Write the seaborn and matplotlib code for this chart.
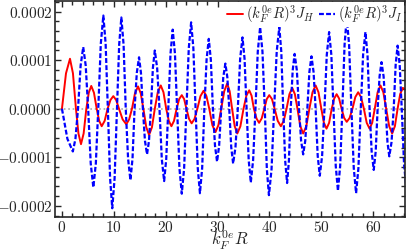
import numpy as np
import pandas as pd
import matplotlib
matplotlib.use("Agg")
import matplotlib.pyplot as plt
from matplotlib.ticker import MultipleLocator, FuncFormatter
import seaborn as sns

# points (extrema, shoulders, zero crossings), y in units of 1e-4
jh_x = [0, 0.78, 1.55, 2.12, 2.7, 3.18, 3.67, 4.18, 4.7, 5.17, 5.65, 6.17, 6.7, 7.18, 7.66,
        8.23, 8.8, 9.35, 9.9, 10.45, 11.0, 11.7, 12.4, 12.95, 13.5, 14.08, 14.67, 15.18, 15.7,
        16.25, 16.8, 17.35, 17.9, 18.47, 19.05, 19.57, 20.1, 20.6, 21.1, 21.6, 22.1, 22.6, 23.1,
        23.55, 24.0, 24.5, 25.0, 25.55, 26.1, 26.7, 27.3, 27.85, 28.4, 29.0, 29.6, 30.15, 30.7,
        31.28, 31.85, 32.33, 32.8, 33.3, 33.8, 34.4, 35.0, 35.55, 36.1, 36.55, 37.0, 37.5, 38.0,
        38.5, 39.0, 39.48, 39.96, 40.48, 41.0, 41.6, 42.2, 42.75, 43.3, 43.85, 44.4, 44.9, 45.4,
        45.95, 46.5, 47.1, 47.7, 48.3, 48.9, 49.45, 50.0, 50.5, 51.0, 51.5, 52.0, 52.48, 52.95,
        53.43, 53.9, 54.4, 54.9, 55.45, 56.0, 56.55, 57.1, 57.65, 58.2, 58.75, 59.3, 59.8, 60.3,
        60.85, 61.4, 61.95, 62.5, 63.08, 63.65, 64.18, 64.7, 65.2, 65.7, 66.5]
jh_y = [0, 0.73, 1.03, 0.73, 0, -0.51, -0.73, -0.51, 0, 0.33, 0.47, 0.33, 0, -0.25, -0.36,
        -0.25, 0, 0.18, 0.26, 0.18, 0, -0.22, -0.32, -0.22, 0, 0.32, 0.46, 0.32, 0,
        -0.38, -0.54, -0.38, 0, 0.34, 0.48, 0.34, 0, -0.25, -0.36, -0.25, 0, 0.20, 0.28,
        0.20, 0, -0.21, -0.30, -0.21, 0, 0.26, 0.37, 0.26, 0, -0.34, -0.48, -0.34, 0,
        0.36, 0.52, 0.36, 0, -0.36, -0.51, -0.36, 0, 0.27, 0.38, 0.27, 0, -0.20, -0.29,
        -0.20, 0, 0.20, 0.28, 0.20, 0, -0.25, -0.36, -0.25, 0, 0.30, 0.43, 0.30, 0,
        -0.36, -0.51, -0.36, 0, 0.34, 0.48, 0.34, 0, -0.29, -0.41, -0.29, 0, 0.21, 0.30,
        0.21, 0, -0.19, -0.27, -0.19, 0, 0.24, 0.34, 0.24, 0, -0.29, -0.41, -0.29, 0,
        0.34, 0.48, 0.34, 0, -0.36, -0.51, -0.36, 0, 0.30, 0.43, 0.38]

ji_x = [0, 1.05, 2.1, 2.6, 3.1, 3.6, 4.1, 4.58, 5.05, 5.55, 6.05, 6.53, 7.0, 7.49, 7.98,
        8.42, 8.85, 9.28, 9.7, 10.15, 10.6, 11.03, 11.45, 11.88, 12.3, 12.75, 13.2, 13.6, 14.0,
        14.43, 14.86, 15.23, 15.6, 16.0, 16.4, 16.78, 17.15, 17.53, 17.9, 18.35, 18.8, 19.25, 19.7,
        20.1, 20.5, 20.93, 21.35, 21.78, 22.2, 22.65, 23.1, 23.55, 24.0, 24.45, 24.9, 25.33, 25.75,
        26.18, 26.6, 27.03, 27.45, 27.88, 28.3, 28.7, 29.1, 29.5, 29.9, 30.3, 30.7, 31.1, 31.5,
        31.88, 32.25, 32.63, 33.0, 33.45, 33.9, 34.35, 34.8, 35.2, 35.6, 36.0, 36.4, 36.85, 37.3,
        37.75, 38.2, 38.65, 39.1, 39.5, 39.9, 40.4, 40.9, 41.4, 41.9, 42.28, 42.65, 43.03, 43.4,
        43.75, 44.1, 44.48, 44.85, 45.28, 45.7, 46.1, 46.5, 46.9, 47.3, 47.7, 48.1, 48.5, 48.9,
        49.3, 49.7, 50.15, 50.6, 51.05, 51.5, 51.93, 52.35, 52.78, 53.2, 53.63, 54.05, 54.48, 54.9,
        55.35, 55.8, 56.25, 56.7, 57.15, 57.6, 58.05, 58.5, 58.9, 59.3, 59.7, 60.1, 60.48, 60.85,
        61.23, 61.6, 62.0, 62.4, 62.75, 63.1, 63.53, 63.95, 64.33, 64.7, 65.1, 65.5, 65.95, 66.4]
ji_y = [0, -0.62, -0.88, -0.62, 0, 0.89, 1.27, 0.89, 0, -1.13, -1.62, -1.13, 0, 1.34, 1.92,
        1.34, 0, -1.43, -2.05, -1.43, 0, 1.32, 1.88, 1.32, 0, -1.03, -1.47, -1.03, 0,
        0.74, 1.06, 0.74, 0, -0.66, -0.94, -0.66, 0, 0.84, 1.20, 0.84, 0, -1.04, -1.49,
        -1.04, 0, 1.14, 1.63, 1.14, 0, -1.23, -1.75, -1.23, 0, 1.25, 1.78, 1.25, 0,
        -1.22, -1.74, -1.22, 0, 1.01, 1.44, 1.01, 0, -0.76, -1.09, -0.76, 0, 0.65, 0.93,
        0.65, 0, -0.79, -1.13, -0.79, 0, 1.03, 1.47, 1.03, 0, -1.06, -1.52, -1.06, 0,
        1.18, 1.68, 1.18, 0, -1.25, -1.78, -1.25, 0, 1.18, 1.68, 1.18, 0, -1.07, -1.53,
        -1.07, 0, 0.79, 1.13, 0.79, 0, -0.66, -0.94, -0.66, 0, 0.76, 1.08, 0.76, 0,
        -0.97, -1.38, -0.97, 0, 1.11, 1.58, 1.11, 0, -1.18, -1.69, -1.18, 0, 1.32, 1.88,
        1.32, 0, -1.22, -1.74, -1.22, 0, 1.11, 1.58, 1.11, 0, -0.88, -1.26, -0.88, 0,
        0.67, 0.96, 0.67, 0, -0.69, -0.98, -0.69, 0, 0.91, 1.30, 0.91, 0, -1.15, -1.65]

df_h = pd.DataFrame({"x": jh_x, "y": np.array(jh_y) * 1e-4})
df_i = pd.DataFrame({"x": ji_x, "y": np.array(ji_y) * 1e-4})

sns.set_style("ticks")
plt.rcParams["mathtext.fontset"] = "cm"
plt.rcParams["font.family"] = ["DejaVu Serif"]

fig = plt.figure(figsize=(4.07, 2.50), dpi=100)
ax = fig.add_axes([0.135, 0.132, 0.861, 0.866])

ax.axhline(0, color="#aaaaaa", ls=":", lw=1.2, zorder=1)
sns.lineplot(data=df_h, x="x", y="y", sort=False, estimator=None, color="#ff0000", lw=1.4,
             ax=ax, label=r"$(k_F^{0e}R)^3J_H$")
sns.lineplot(data=df_i, x="x", y="y", sort=False, estimator=None, color="#0000ff", lw=1.6,
             ax=ax, label=r"$(k_F^{0e}R)^3J_I$")
ax.lines[-1].set_dashes([2.2, 1.0])

ax.set_xlim(-1.35, 66.2)
ax.set_ylim(-0.000223, 0.000223)
ax.xaxis.set_major_locator(MultipleLocator(10))
ax.xaxis.set_minor_locator(MultipleLocator(2))
ax.yaxis.set_major_locator(MultipleLocator(0.0001))
ax.yaxis.set_minor_locator(MultipleLocator(0.00002))
ax.xaxis.set_major_formatter(FuncFormatter(lambda v, p: r"$%d$" % round(v)))
ax.yaxis.set_major_formatter(FuncFormatter(lambda v, p: r"$%.4f$" % (0 if abs(v) < 1e-9 else v)))
ax.tick_params(which="both", direction="in", top=True, right=True, width=1.0, labelsize=11, pad=2)
ax.tick_params(which="major", length=4.5)
ax.tick_params(which="minor", length=3)
for s in ax.spines.values():
    s.set_linewidth(1.2)

ax.set_xlabel(r"$k_F^{0e}R$", fontsize=12, labelpad=-4)
ax.set_ylabel("")
leg = ax.legend(loc="upper right", ncol=2, fontsize=10.5, frameon=True, facecolor="white",
                edgecolor="none", framealpha=1, handlelength=1.1, handletextpad=0.2,
                columnspacing=0.3, borderaxespad=0.1, borderpad=0.1, fancybox=False)
leg.get_lines()[1].set_dashes([2.2, 1.0])

fig.savefig("out.png", dpi=100)
